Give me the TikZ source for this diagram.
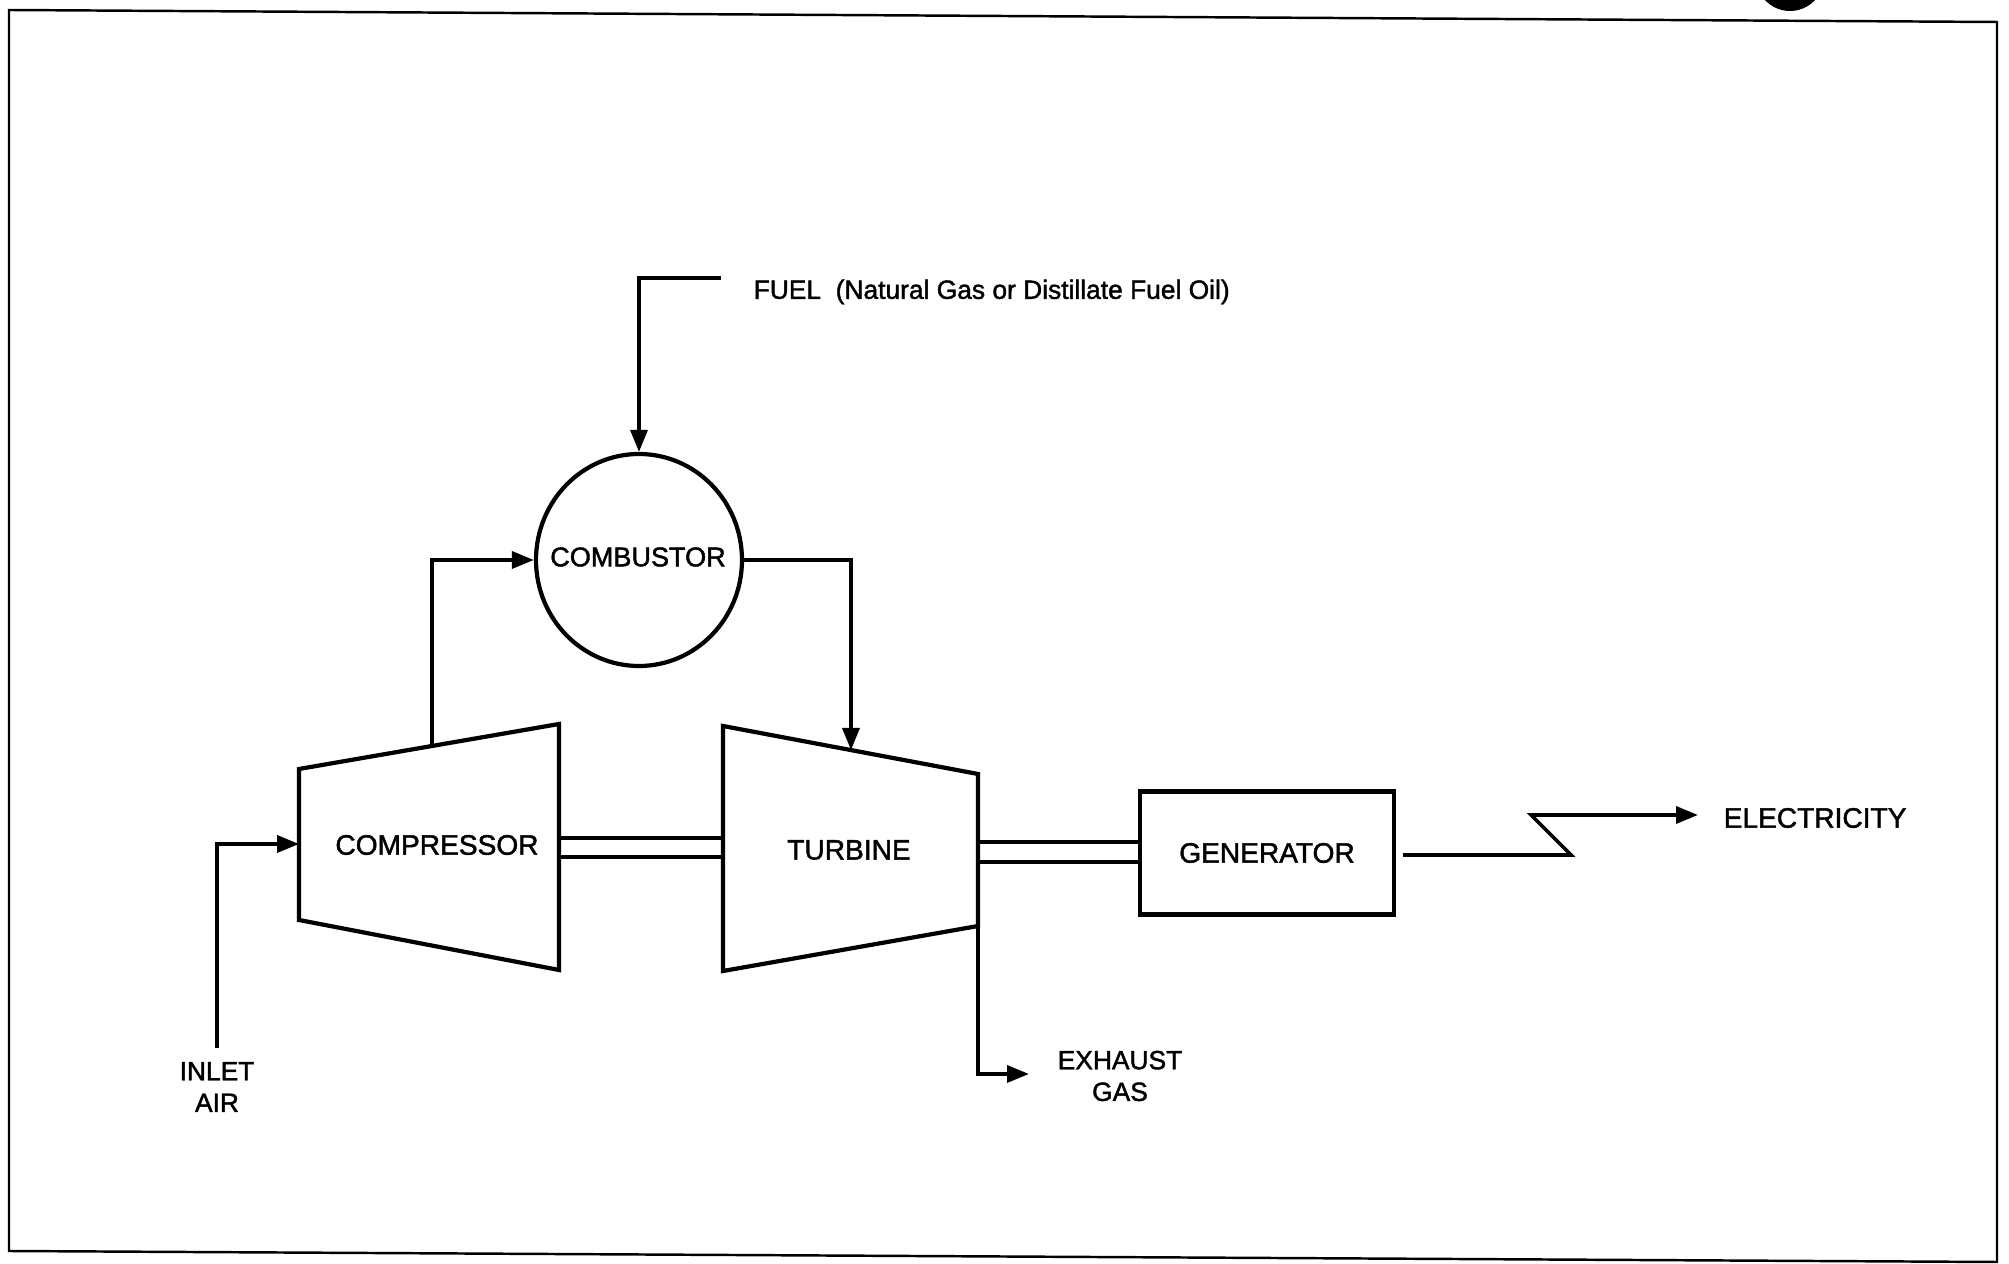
\documentclass[tikz,border=0pt]{standalone}
\usepackage{fontspec}
\setmainfont{Liberation Sans}[FakeBold=1.6]
\usetikzlibrary{arrows.meta,shapes.geometric}
\begin{document}
\begin{tikzpicture}[x=0.1mm,y=-0.1mm,
  shape line/.style={line width=1.2pt,line join=miter},
  flow/.style={line width=1pt},
  arr/.style={flow,-{Triangle[length=2.2mm,width=1.7mm]}},
  big/.style={font=\fontsize{8}{9.5}\selectfont,inner sep=0pt},
  small/.style={font=\fontsize{7.5}{9}\selectfont,inner sep=0pt,align=center},
]
\useasboundingbox (0,0) rectangle (2009,1264);
\clip (0,0) rectangle (2009,1264);
% frame
\draw[line width=0.7pt] (9,10) -- (1997,22) -- (1997,1262) -- (9,1251) -- cycle;
% blob at top right
\fill (1790,-23) circle[radius=3.4mm];

% compressor
\coordinate (ctl) at (299,769);
\coordinate (cbl) at (299,920);
\coordinate (ctr) at (559,724);
\coordinate (cbr) at (559,970);
\draw[shape line] (ctl) -- (ctr) -- (cbr) -- (cbl) -- cycle;
\node[big] (comp) at (437,845) {COMPRESSOR};

% turbine
\coordinate (ttl) at (723,726);
\coordinate (tbl) at (723,971);
\coordinate (ttr) at (978,774);
\coordinate (tbr) at (978,926);
\draw[shape line] (ttl) -- (ttr) -- (tbr) -- (tbl) -- cycle;
\node[big] (turb) at (849,850) {TURBINE};

% combustor
\node[draw,shape line,ellipse,minimum width=20.6mm,minimum height=21.2mm,inner sep=0pt] (comb) at (639,560) {};
\node[font=\fontsize{7.7}{9}\selectfont,inner sep=0pt] (combtxt) at (638,557) {COMBUSTOR};

% generator
\node[draw,shape line,minimum width=25.4mm,minimum height=12.3mm,inner sep=0pt,
  font=\fontsize{8}{9.5}\selectfont] (gen) at (1267,853) {GENERATOR};

% shafts
\coordinate (s1a) at (559,838); \coordinate (s1b) at (723,838);
\coordinate (s2a) at (559,857); \coordinate (s2b) at (723,857);
\draw[shape line] (s1a) -- (s1b) (s2a) -- (s2b);
\coordinate (s3a) at (978,842); \coordinate (s3b) at (1140,842);
\coordinate (s4a) at (978,862); \coordinate (s4b) at (1140,862);
\draw[shape line] (s3a) -- (s3b) (s4a) -- (s4b);

% fuel
\coordinate (fuel0) at (721,278);
\coordinate (fuel1) at (639,278);
\draw[arr] (fuel0) -- (fuel1) -- (comb.north);
\node[anchor=west,font=\fontsize{7.5}{9}\selectfont,inner sep=0pt] (fuel) at (753,292)
  {FUEL\ \ (Natural Gas or Distillate Fuel Oil)};

% compressor -> combustor
\coordinate (ctop) at (432,746);
\draw[arr] (ctop) |- (comb.west);

% combustor -> turbine
\coordinate (ttop) at (851,750);
\draw[arr] (comb.east) -| (ttop);

% inlet air
\coordinate (in0) at (217,1048);
\coordinate (cin) at (299,844);
\draw[arr] (in0) |- (cin);
\node[small] (inlet) at (217,1087) {INLET\\AIR};

% exhaust
\coordinate (ex1) at (1029,1074);
\draw[arr] (tbr) |- (ex1);
\node[small] (exh) at (1120,1076) {EXHAUST\\GAS};

% electricity
\coordinate (e0) at (1403,855);
\coordinate (e1) at (1571,855);
\coordinate (e2) at (1531,815);
\coordinate (e3) at (1698,815);
\draw[arr] (e0) -- (e1) -- (e2) -- (e3);
\node[big,anchor=west] (elec) at (1723,818) {ELECTRICITY};
\end{tikzpicture}
\end{document}
